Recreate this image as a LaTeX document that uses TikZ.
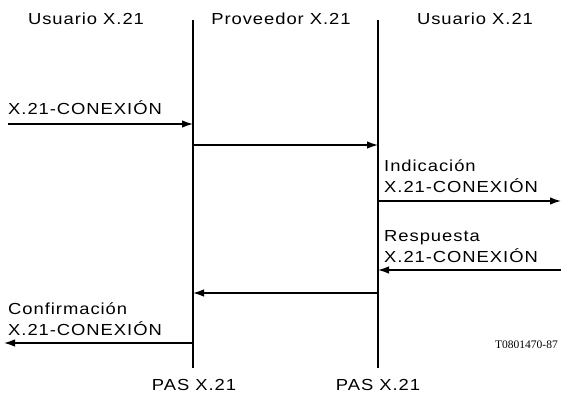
\documentclass[tikz,border=0pt]{standalone}
\usepackage{fontspec}
\setmainfont{Liberation Sans}[FakeStretch=1.15, LetterSpace=6]
\newfontfamily\codefont{Liberation Serif}
\usetikzlibrary{arrows.meta}

\begin{document}
\begin{tikzpicture}[
  x=1pt, y=-1pt,
  font=\fontsize{16}{21}\selectfont,
  >={Latex[length=11pt,width=7.5pt]},
  lifeline/.style={line width=1.2pt},
  msg/.style={->, line width=1.4pt},
  lbl/.style={anchor=base west, inner sep=0pt, align=left}
]
  \useasboundingbox (0,0) rectangle (563,396);

  % headers
  \node[anchor=base] (hdrA) at (86,25) {Usuario X.21};
  \node[anchor=base] (hdrB) at (281,25) {Proveedor X.21};
  \node[anchor=base] (hdrC) at (475,25) {Usuario X.21};

  % interfaces
  \coordinate (topA) at (193,20);
  \coordinate (botA) at (193,368);
  \coordinate (topB) at (378,20);
  \coordinate (botB) at (378,368);
  \draw[lifeline] (topA) -- (botA);
  \draw[lifeline] (topB) -- (botB);
  \node[anchor=base] (pasA) at (194,390) {PAS X.21};
  \node[anchor=base] (pasB) at (378,390) {PAS X.21};

  % message ends
  \coordinate (inA) at (8,124);
  \coordinate (reqA) at (193,124);
  \coordinate (reqB) at (193,145);
  \coordinate (indB) at (378,145);
  \coordinate (indC) at (378,201);
  \coordinate (outC) at (561,201);
  \coordinate (inC) at (561,270);
  \coordinate (rspC) at (378,270);
  \coordinate (rspB) at (378,293);
  \coordinate (cnfB) at (193,293);
  \coordinate (cnfA) at (193,343);
  \coordinate (outA) at (4,343);

  \draw[msg] (inA) -- (reqA);
  \draw[msg] (reqB) -- (indB);
  \draw[msg] (indC) -- (outC);
  \draw[msg] (inC) -- (rspC);
  \draw[msg] (rspB) -- (cnfB);
  \draw[msg] (cnfA) -- (outA);

  % last line of each label sits on the given baseline
  \node[lbl] (reqLbl) at (8,114) {X.21-CONEXIÓN};
  \node[lbl] (indLbl) at (384,193) {Indicación\\X.21-CONEXIÓN};
  \node[lbl] (rspLbl) at (384,262) {Respuesta\\X.21-CONEXIÓN};
  \node[lbl] (cnfLbl) at (8,335) {Confirmación\\X.21-CONEXIÓN};

  \node[anchor=base east, inner sep=0pt, font=\codefont\fontsize{11.5}{13}\selectfont] (tag) at (558,348) {T0801470-87};
\end{tikzpicture}
\end{document}
